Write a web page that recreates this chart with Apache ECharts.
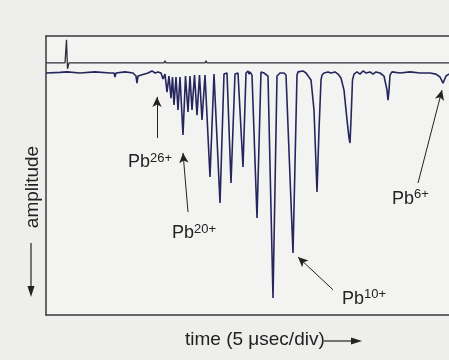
<!DOCTYPE html>
<html>
<head>
<meta charset="UTF-8">
<title>Pb charge states</title>
<script src="https://cdn.jsdelivr.net/npm/echarts@6/dist/echarts.min.js"></script>
<style>
  html, body { margin: 0; padding: 0; background: #eeeeec; }
  #chart { width: 449px; height: 360px; }
</style>
</head>
<body>
<div id="chart"></div>
<script>
// lower trace (time in 0.1 div steps, amplitude arbitrary units)
var sigTime = [0, 1.4, 2.1, 3.4, 4.9, 6.4, 6.8, 6.9, 7.0, 7.9, 8.7, 9.0, 9.1, 9.2, 9.4, 10.2, 10.6, 10.9, 11.2,
  11.5, 11.7, 11.9, 12.1, 12.3, 12.5, 12.65, 12.8, 13.0, 13.2, 13.4, 13.7, 13.95, 14.2, 14.4, 14.6, 14.85, 15.1, 15.35, 15.6, 15.9,
  16.4, 16.8, 17.0, 17.4, 17.8, 18.1, 18.5, 18.9, 19.2, 19.7, 20.0, 20.2, 20.3, 20.4, 20.6, 21.1, 21.5, 21.7, 21.8, 22.0, 22.2,
  22.7, 23.1, 23.2, 23.4, 23.6, 23.8, 24.0, 24.7, 25.1, 25.2, 25.4, 25.7, 26.0, 26.2, 26.5, 26.8, 27.1, 27.3, 27.5, 27.6, 27.8,
  28.2, 28.5, 28.9, 29.2, 29.5, 29.8, 30.1, 30.3, 30.4, 30.5, 30.65, 30.8, 31.1, 31.4, 31.7, 32.0, 32.4, 32.7, 33.0, 33.4,
  33.8, 34.1, 34.2, 34.3, 34.4, 34.6, 35.4, 36.4, 37.4, 38.4, 39.0, 39.4, 39.7, 40.0, 40.3, 41.4];
var sigAmp = [-0.25, 0, 0.2, -0.25, 0.2, -0.25, -0.25, -1.9, -0.25, 0.2, -0.25, -1.5, -4.4, -1.5, -0.7, -0.25, 0.6, -0.25, 0.2,
  -0.25, -2.7, -0.7, -8.1, -1.5, -10.6, -1.9, -13.4, -1.9, -15.5, -1.9, -25.8, -1.5, -16.3, -1.5, -15.5, -1.1, -17.6, -1.1, -19.6, -1.1,
  -43.1, -0.7, -1.5, -53.8, -0.7, -0.25, -45.6, -0.7, -0.25, -39.0, -0.25, 0.6, -0.7, 0.2, -1.1, -60.0, 0.2, 0.6, -0.25, -0.7, -1.5,
  -93.0, -1.5, -0.7, -0.25, -0.7, -0.25, -1.1, -74.4, -1.1, 0.2, -0.25, 0.6, -0.25, -0.7, -3.1, -15.5, -49.3, -23.7, -3.1, -1.1, -0.25,
  0.2, -0.25, 0.2, -0.7, -2.3, -7.3, -19.6, -27.0, -29.1, -19.6, -3.1, -0.7, 0.2, -0.7, 0.6, -0.25, 0.2, -0.7, 0.2, -0.25,
  -1.5, -7.3, -11.4, -7.3, -1.1, 0.2, -0.25, 0.2, -0.25, -0.25, -0.7, -1.9, -4.4, -1.5, -0.7, -0.25];

// upper (trigger) trace
var gateTime = [0, 1.9, 2.05, 2.15, 2.3, 11.8, 11.9, 12.0, 15.9, 16.0, 16.1, 19.6, 19.7, 19.8, 23.1, 23.2, 23.3,
  31.0, 31.1, 31.2, 35.6, 35.7, 35.8, 42.3];
var gateAmp = [3.9, 3.9, 13.4, 1.5, 3.9, 3.9, 4.8, 3.9, 3.9, 4.8, 3.9, 3.9, 4.6, 3.9, 3.9, 4.6, 3.9,
  3.9, 4.6, 3.9, 3.9, 4.6, 3.9, 3.9];

// charge state labels and arrows
var ionBase = ['Pb', 'Pb', 'Pb', 'Pb'];
var ionCharge = ['26+', '20+', '10+', '6+'];
var labelTime = [8.2, 12.6, 29.6, 34.6];
var labelAmp = [-41.3, -70.7, -97.6, -56.4];
var arrowFromTime = [11.1, 14.2, 28.7, 37.2];
var arrowFromAmp = [-27.0, -57.6, -89.6, -45.6];
var arrowToTime = [11.1, 13.7, 25.2, 39.6];
var arrowToAmp = [-10.1, -33.2, -76.1, -7.3];

var FONT = '"Liberation Sans", Arial, sans-serif';
var BOX = { show: true, onZero: false, lineStyle: { color: '#3a3a3a', width: 1.5 } };

function pairs(xs, ys) {
  var out = [];
  for (var i = 0; i < xs.length; i++) out.push([xs[i], ys[i]]);
  return out;
}

var labelData = [];
var arrowData = [];
for (var i = 0; i < ionBase.length; i++) {
  labelData.push({
    coord: [labelTime[i], labelAmp[i]],
    value: ionBase[i],
    label: { formatter: '{b|' + ionBase[i] + '}{s|' + ionCharge[i] + '}' }
  });
  arrowData.push([
    { coord: [arrowFromTime[i], arrowFromAmp[i]] },
    { coord: [arrowToTime[i], arrowToAmp[i]] }
  ]);
}

var chart = echarts.init(document.getElementById('chart'));
var option = {
  backgroundColor: '#eeeeec',
  animation: false,
  grid: {
    left: 46, top: 36, right: 0, bottom: 45,
    show: true,
    backgroundColor: '#f3f3f1',
    borderWidth: 0
  },
  xAxis: [
    { type: 'value', min: 0, max: 40.3, position: 'bottom', axisLine: BOX,
      axisTick: { show: false }, axisLabel: { show: false }, splitLine: { show: false } },
    { type: 'value', min: 0, max: 40.3, position: 'top', axisLine: BOX,
      axisTick: { show: false }, axisLabel: { show: false }, splitLine: { show: false } }
  ],
  yAxis: { type: 'value', min: -100, max: 15, position: 'left', axisLine: BOX,
    axisTick: { show: false }, axisLabel: { show: false }, splitLine: { show: false } },
  series: [{
    type: 'line',
    data: pairs(gateTime, gateAmp),
    showSymbol: false,
    silent: true,
    lineStyle: { color: '#303038', width: 1.3 }
  }, {
    type: 'line',
    data: pairs(sigTime, sigAmp),
    showSymbol: false,
    silent: true,
    lineStyle: { color: '#26265e', width: 1.6 },
    markPoint: {
      symbol: 'circle',
      symbolSize: 0,
      silent: true,
      label: {
        show: true,
        position: [0, 0],
        align: 'left',
        verticalAlign: 'bottom',
        rich: {
          b: { fontFamily: FONT, fontSize: 18, lineHeight: 21, color: '#222' },
          s: { fontFamily: FONT, fontSize: 13, lineHeight: 13, color: '#222', verticalAlign: 'top' }
        }
      },
      data: labelData
    },
    markLine: {
      silent: true,
      symbol: ['none', 'arrow'],
      symbolSize: [7, 10],
      label: { show: false },
      lineStyle: { color: '#222', width: 1, type: 'solid' },
      data: arrowData
    }
  }],
  graphic: [
    {
      type: 'text', x: 33, y: 187, rotation: Math.PI / 2,
      style: { text: 'amplitude', font: '19px ' + FONT, fill: '#222', align: 'center', verticalAlign: 'middle' }
    },
    { type: 'line', shape: { x1: 31, y1: 243, x2: 31, y2: 290 }, style: { stroke: '#222', lineWidth: 1.2 } },
    { type: 'polygon', shape: { points: [[27.5, 286], [34.5, 286], [31, 297]] }, style: { fill: '#222' } },
    {
      type: 'text', x: 185, y: 340,
      style: { text: 'time (5 \u03bcsec/div)', font: '19px ' + FONT, fill: '#222', align: 'left', verticalAlign: 'middle' }
    },
    { type: 'line', shape: { x1: 324, y1: 341, x2: 355, y2: 341 }, style: { stroke: '#222', lineWidth: 1.2 } },
    { type: 'polygon', shape: { points: [[351, 337.5], [351, 344.5], [362, 341]] }, style: { fill: '#222' } }
  ]
};
chart.setOption(option);
</script>
</body>
</html>
